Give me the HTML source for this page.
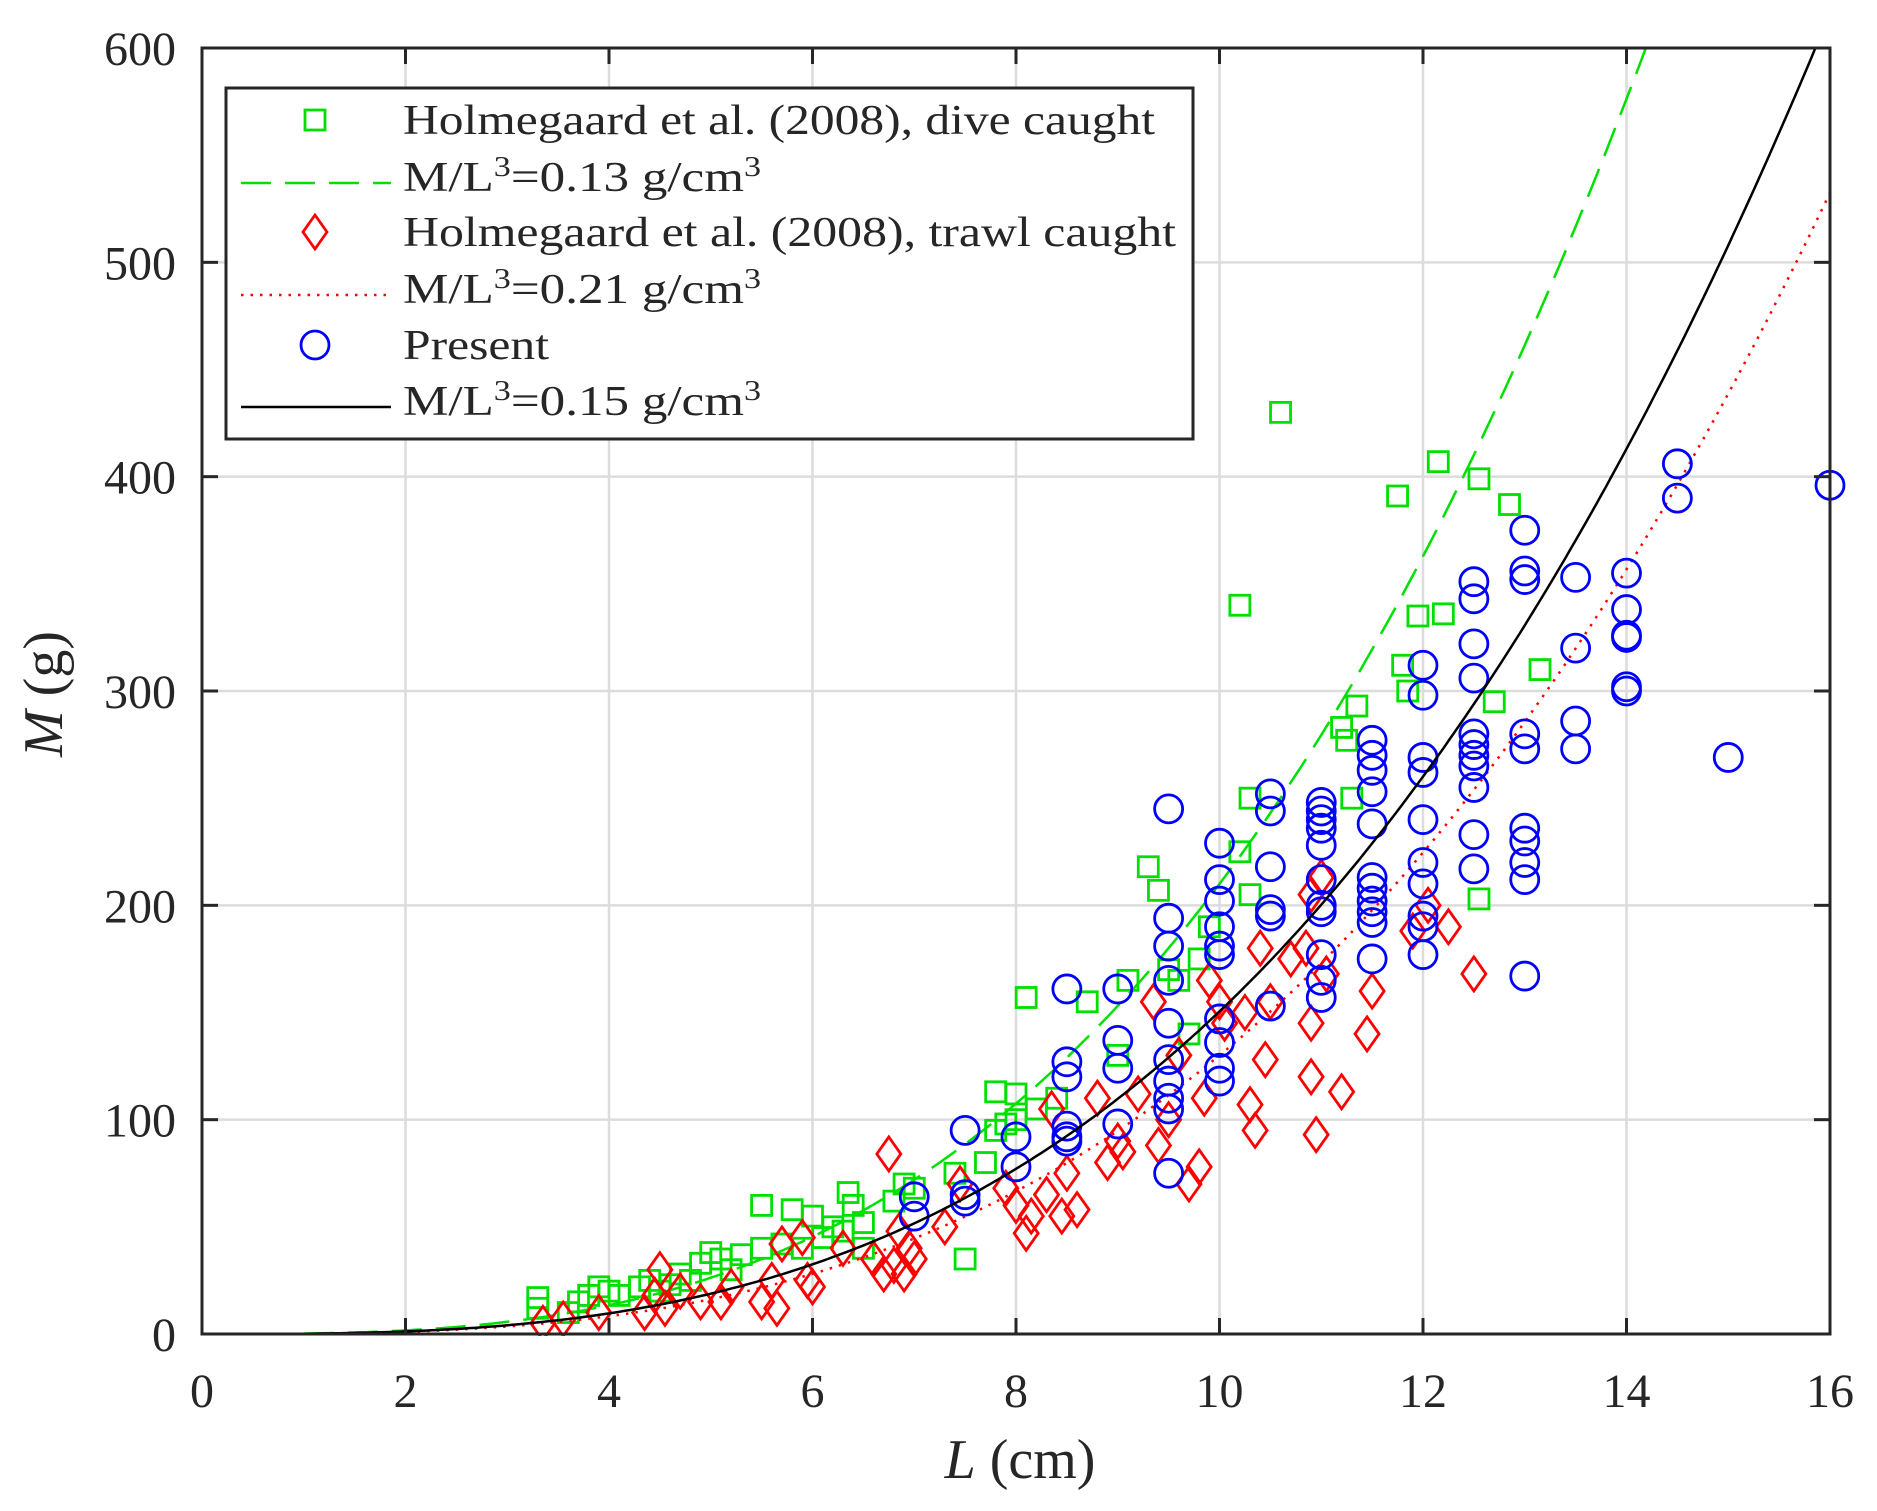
<!DOCTYPE html>
<html><head><meta charset="utf-8"><style>
html,body{margin:0;padding:0;background:#fff;}
svg{display:block;}
text{font-family:"Liberation Serif",serif;fill:#262626;}
</style></head><body>
<svg id="s" width="1877" height="1511" viewBox="0 0 1877 1511" xmlns="http://www.w3.org/2000/svg"></svg>
<script>
const X0=202,X1=1830,Y0=1334,Y1=48;
const fx=L=>X0+(X1-X0)*L/16, fy=M=>Y0-(Y0-Y1)*M/600;
let h='';
h+='<rect x="0" y="0" width="1877" height="1511" fill="#fff"/>';
for(let i=1;i<8;i++){const x=fx(2*i);h+=`<line x1="${x}" y1="${Y1}" x2="${x}" y2="${Y0}" stroke="#dcdcdc" stroke-width="2.5"/>`;}
for(let i=1;i<6;i++){const y=fy(100*i);h+=`<line x1="${X0}" y1="${y}" x2="${X1}" y2="${y}" stroke="#dcdcdc" stroke-width="2.5"/>`;}
h+='<g clip-path="url(#c)">';
function curve(k,st,dash,w){let p='';for(let L=1;L<=16.001;L+=0.05){p+=(p?'L':'M')+fx(L).toFixed(1)+','+fy(k*L*L*L).toFixed(1);}return `<path d="${p}" fill="none" stroke="${st}" stroke-width="${w}" ${dash}/>`;}
const G=[[3.3,12],[3.3,17],[3.6,10],[3.7,15],[3.8,18],[3.9,22],[4.0,20],[4.1,18],[4.3,22],[4.4,25],[4.5,20],[4.6,23],[4.7,28],[4.8,25],[4.9,33],[5.0,38],[5.1,35],[5.2,30],[5.3,37],[5.5,40],[5.5,60],[5.7,42],[5.8,58],[5.9,40],[6.0,55],[6.1,45],[6.2,50],[6.3,48],[6.35,66],[6.4,60],[6.5,52],[6.5,40],[6.8,62],[6.9,70],[7.0,68],[7.4,75],[7.5,35],[7.7,80],[7.8,113],[7.8,95],[7.9,98],[8.0,112],[8.0,100],[8.1,157],[8.2,105],[8.4,110],[8.7,155],[9.0,130],[9.1,165],[9.3,218],[9.4,207],[9.5,170],[9.6,165],[9.7,140],[9.8,175],[9.9,190],[10.2,340],[10.2,225],[10.3,250],[10.3,205],[10.6,430],[11.2,283],[11.25,277],[11.3,250],[11.35,293],[11.75,391],[11.8,312],[11.85,300],[11.95,335],[12.15,407],[12.2,336],[12.55,399],[12.55,203],[12.7,295],[12.85,387],[13.15,310]];
const R=[[3.35,5],[3.55,7],[3.9,10],[4.35,10],[4.45,18],[4.5,30],[4.55,12],[4.7,20],[4.9,15],[5.1,15],[5.2,22],[5.5,15],[5.6,25],[5.65,12],[5.7,42],[5.9,45],[5.95,25],[6.0,22],[6.3,40],[6.6,35],[6.7,28],[6.75,84],[6.8,32],[6.85,48],[6.9,28],[6.95,40],[7.0,35],[7.3,50],[7.45,70],[7.9,68],[8.0,60],[8.1,47],[8.15,55],[8.3,65],[8.35,105],[8.45,55],[8.5,75],[8.6,58],[8.8,110],[8.9,80],[9.0,90],[9.05,85],[9.2,112],[9.35,155],[9.4,88],[9.5,100],[9.6,130],[9.7,70],[9.8,78],[9.85,110],[9.9,165],[10.0,155],[10.05,145],[10.25,150],[10.3,107],[10.35,95],[10.4,180],[10.45,128],[10.5,155],[10.7,175],[10.85,180],[10.9,205],[10.9,145],[10.9,120],[10.95,93],[11.0,213],[11.05,168],[11.2,113],[11.45,140],[11.5,160],[11.9,188],[12.05,200],[12.25,190],[12.5,168]];
const Bd={7:[64,55],7.5:[95,65,62],8:[92,78],8.5:[161,127,120,97,92,90],9:[161,137,124,98],9.5:[245,194,181,165,145,128,118,110,105,75],10:[229,212,202,190,181,177,147,136,124,118],10.5:[252,244,218,198,195,153],11:[248,244,240,236,228,212,200,197,177,165,157],11.5:[277,270,263,253,238,213,208,202,197,192,175],12:[312,298,269,262,240,220,210,195,190,177],12.5:[351,343,322,306,280,275,270,265,255,233,217],13:[375,356,352,280,273,236,230,220,212,167],13.5:[353,320,286,273],14:[355,338,326,325,302,300],14.5:[406,390],15:[269],16:[396]};
function sq(x,y){return `<rect x="${x-10}" y="${y-10}" width="20" height="20" fill="none" stroke="#00e000" stroke-width="2.8"/>`;}
function di(x,y){return `<path d="M${x},${y-17}L${x+12},${y}L${x},${y+17}L${x-12},${y}Z" fill="none" stroke="#ff0000" stroke-width="2.8"/>`;}
function ci(x,y){return `<circle cx="${x}" cy="${y}" r="14" fill="none" stroke="#0000ff" stroke-width="2.8"/>`;}
G.forEach(p=>h+=sq(fx(p[0]),fy(p[1])));
h+=curve(0.21,'#00e000','stroke-dasharray="30 14"',2.5);
R.forEach(p=>h+=di(fx(p[0]),fy(p[1])));
h+=curve(0.13,'#ff0000','stroke-dasharray="2.5 7"',2.5);
for(const k in Bd){Bd[k].forEach(m=>h+=ci(fx(+k),fy(m)));}
h+=curve(0.1505,'#000','',2.5);
h+='</g>';
h+=`<defs><clipPath id="c"><rect x="${X0-16}" y="${Y1}" width="${X1-X0+32}" height="${Y0-Y1+2}"/></clipPath></defs>`;
for(let i=0;i<=8;i++){const x=fx(2*i);h+=`<line x1="${x}" y1="${Y0}" x2="${x}" y2="${Y0-16}" stroke="#262626" stroke-width="3"/><line x1="${x}" y1="${Y1}" x2="${x}" y2="${Y1+16}" stroke="#262626" stroke-width="3"/>`;h+=`<text x="${x}" y="1407" font-size="48" text-anchor="middle">${2*i}</text>`;}
for(let i=0;i<=6;i++){const y=fy(100*i);h+=`<line x1="${X0}" y1="${y}" x2="${X0+16}" y2="${y}" stroke="#262626" stroke-width="3"/><line x1="${X1}" y1="${y}" x2="${X1-16}" y2="${y}" stroke="#262626" stroke-width="3"/>`;h+=`<text x="176" y="${y+17}" font-size="48" text-anchor="end">${100*i}</text>`;}
h+=`<rect x="${X0}" y="${Y1}" width="${X1-X0}" height="${Y0-Y1}" fill="none" stroke="#262626" stroke-width="3"/>`;
h+=`<text x="1020" y="1478" font-size="56" text-anchor="middle"><tspan font-style="italic">L</tspan> (cm)</text>`;
h+=`<text transform="translate(62,694) rotate(-90)" font-size="56" text-anchor="middle"><tspan font-style="italic">M</tspan> (g)</text>`;
h+='<rect x="226" y="88" width="967" height="351" fill="#fff" stroke="#262626" stroke-width="3"/>';
const ly=[120,177,232,289,345,401];
const sup='M/L<tspan font-size="28" dy="-15">3</tspan><tspan dy="15">=0.1X g/cm</tspan><tspan font-size="28" dy="-15">3</tspan>';
const lt=[['Holmegaard et al. (2008), dive caught',752],[sup.replace('X','3'),358],['Holmegaard et al. (2008), trawl caught',773],[sup.replace('X','1').replace('0.11','0.21'),358],['Present',146],[sup.replace('X','5'),358]];
ly.forEach((y,i)=>h+=`<text x="403" y="${y+14}" font-size="42" fill="#000" textLength="${lt[i][1]}" lengthAdjust="spacingAndGlyphs">${lt[i][0]}</text>`);
h+=sq(315,ly[0]);
h+=`<line x1="241" y1="${ly[1]+6}" x2="391" y2="${ly[1]+6}" stroke="#00e000" stroke-width="2.5" stroke-dasharray="30 14"/>`;
h+=di(315,ly[2]);
h+=`<line x1="241" y1="${ly[3]+6}" x2="391" y2="${ly[3]+6}" stroke="#ff0000" stroke-width="2.5" stroke-dasharray="2.5 7"/>`;
h+=ci(315,ly[4]);
h+=`<line x1="241" y1="${ly[5]+6}" x2="391" y2="${ly[5]+6}" stroke="#000" stroke-width="2.5"/>`;
document.getElementById('s').innerHTML=h;
</script>
</body></html>
